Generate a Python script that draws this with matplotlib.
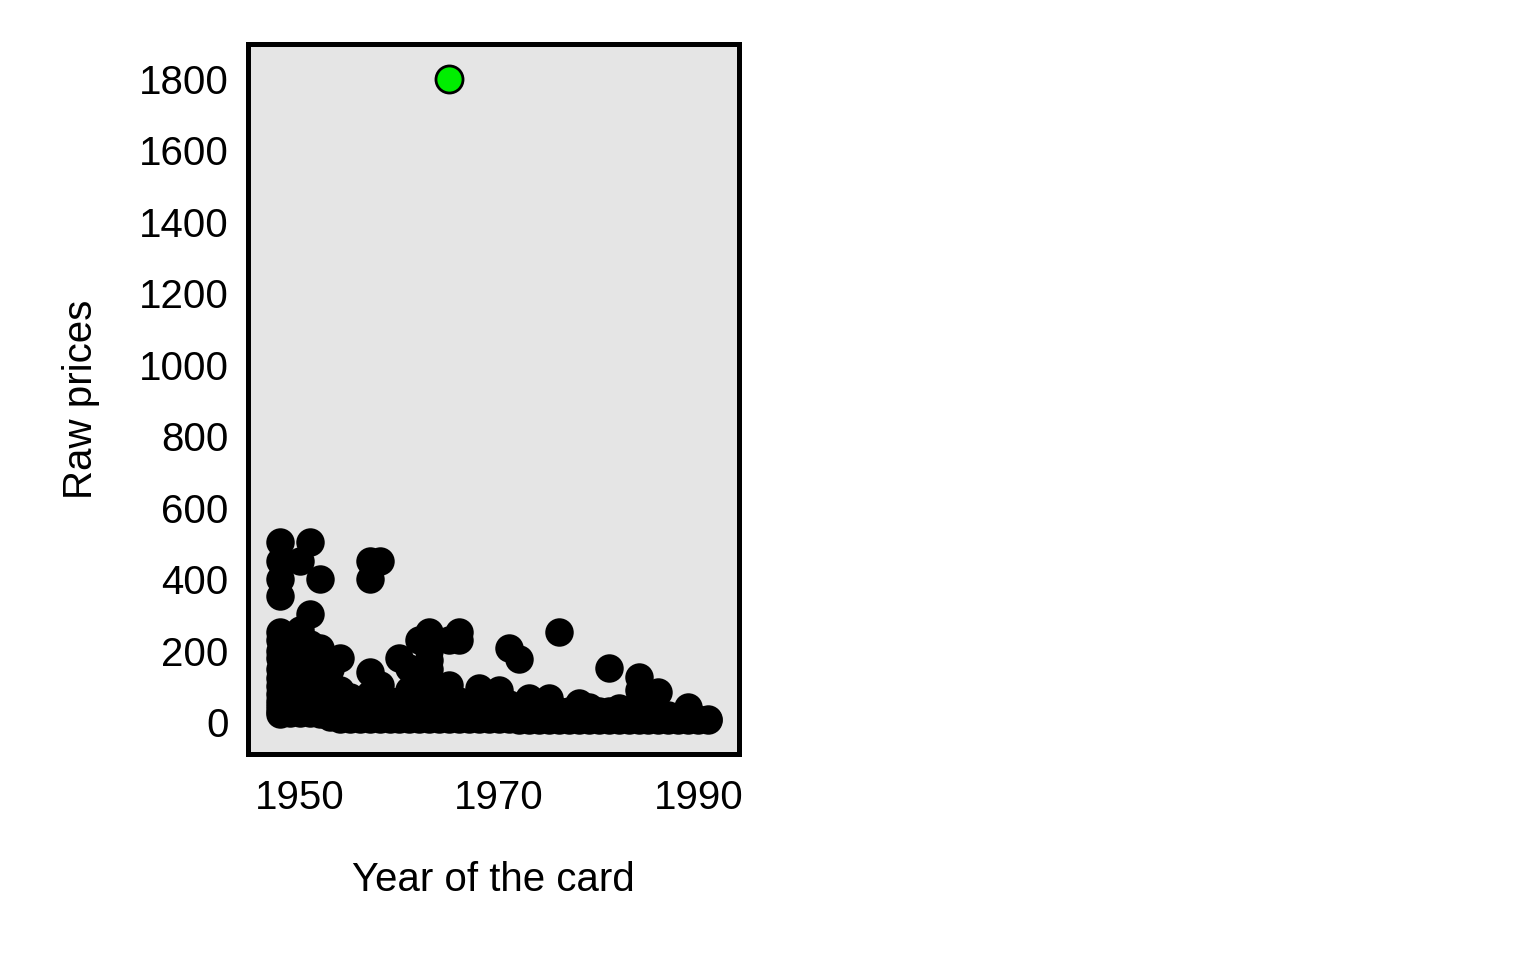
import matplotlib
matplotlib.use("Agg")
import matplotlib.pyplot as plt

plt.rcParams['font.family'] = ['Liberation Sans', 'DejaVu Sans']

# card prices, grouped by year
year_list = [1948, 1949, 1950, 1951, 1952, 1953, 1954, 1955, 1956, 1957,
             1958, 1959, 1960, 1961, 1962, 1963, 1964, 1965, 1966, 1967,
             1968, 1969, 1970, 1971, 1972, 1973, 1974, 1975, 1976, 1977,
             1978, 1979, 1980, 1981, 1982, 1983, 1984, 1985, 1986, 1987,
             1988, 1989, 1990, 1991]
price_list = [
    [503, 452, 402, 352, 251, 230, 200, 180, 150, 125, 100, 80, 60, 45, 30, 22],
    [240, 180, 130, 90, 60, 40, 25],
    [452, 257, 240, 200, 160, 120, 90, 60, 40, 25],
    [503, 304, 220, 150, 110, 70, 45, 25],
    [402, 207, 180, 130, 100, 70, 40, 22],
    [150, 110, 80, 50, 30, 15],
    [179, 90, 60, 35, 10],
    [70, 40, 20, 8],
    [60, 30, 10],
    [452, 402, 140, 80, 50, 20, 8],
    [452, 103, 60, 30, 10],
    [60, 35, 10],
    [179, 60, 30, 8],
    [151, 89, 50, 20, 8],
    [229, 70, 40, 10],
    [251, 200, 175, 150, 125, 100, 60, 30, 8],
    [60, 30, 8],
    [229, 103, 50, 25, 8],
    [251, 229, 60, 30, 8],
    [50, 25, 8],
    [95, 50, 20, 8],
    [45, 20, 8],
    [89, 50, 20, 8],
    [207, 50, 20, 8],
    [176, 40, 15, 5],
    [67, 35, 10, 5],
    [40, 15, 5],
    [67, 30, 10, 5],
    [251, 30, 10, 5],
    [30, 10, 5],
    [53, 25, 5],
    [42, 15, 5],
    [30, 10, 5],
    [151, 30, 10, 5],
    [39, 15, 5],
    [25, 10, 5],
    [126, 89, 60, 30, 10, 5],
    [30, 10, 5],
    [84, 20, 5],
    [20, 5],
    [15, 5],
    [42, 15, 5],
    [10, 5],
    [8, 5],
]
top_year = 1965
top_price = 1800

xs = []
ys = []
for yr, prices in zip(year_list, price_list):
    for p in prices:
        xs.append(yr)
        ys.append(p)

fig = plt.figure(figsize=(15.36, 9.6), dpi=100)
ax = fig.add_axes([0.1615, 0.2146, 0.3197, 0.7396])
ax.set_facecolor("#e5e5e5")

ax.scatter(xs, ys, s=420, color="black", linewidths=0, zorder=2)
ax.scatter([top_year], [top_price], s=380, color="#00ee00", edgecolors="black",
           linewidths=2, zorder=3)

ax.set_xlim(1944.8, 1994.1)
ax.set_ylim(-89, 1898)
ax.set_xticks([1950, 1970, 1990])
ax.set_yticks(range(0, 1801, 200))
ax.tick_params(axis="both", length=0, labelsize=29)
ax.tick_params(axis="x", pad=18)
ax.tick_params(axis="y", pad=14)
for s in ax.spines.values():
    s.set_linewidth(3.6)

ax.set_xlabel("Year of the card", fontsize=29, labelpad=32)
ax.set_ylabel("Raw prices", fontsize=29, labelpad=28)

fig.savefig("out.png", dpi=100)
